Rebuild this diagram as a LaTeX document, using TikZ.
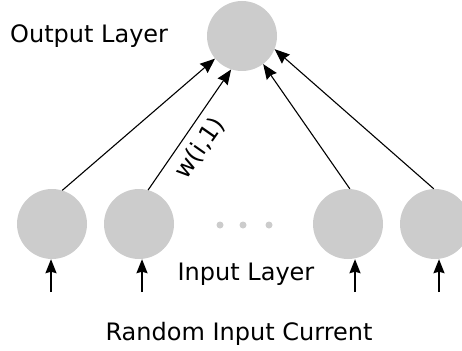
\documentclass[tikz,border=0pt]{standalone}
\usepackage{fontspec}
\setmainfont{DejaVu Sans}
\usetikzlibrary{arrows.meta}
\definecolor{nodegray}{HTML}{CCCCCC}
\begin{document}
\begin{tikzpicture}[x=1pt,y=-1pt,
  neuron/.style={circle,fill=nodegray,draw=none,minimum size=70pt,inner sep=0pt},
  dotc/.style={circle,fill=nodegray,draw=none,minimum size=7pt,inner sep=0pt},
  conn/.style={line width=1.1pt,-{Stealth[length=15pt,width=12pt,inset=1.5pt]}},
  inarr/.style={line width=1.7pt,-{Stealth[length=14pt,width=11pt,inset=1.5pt]}},
  lbl/.style={font=\fontsize{24pt}{28pt}\selectfont,inner sep=0pt}]
\useasboundingbox (0,0) rectangle (462,350);
\node[neuron] (o) at (242,36) {};
\node[neuron] (i1) at (52,224) {};
\node[neuron] (i2) at (139,224) {};
\node[neuron] (i3) at (348,224) {};
\node[neuron] (i4) at (435,224) {};
\node[dotc] (d1) at (220,225) {};
\node[dotc] (d2) at (243,225) {};
\node[dotc] (d3) at (269,225) {};
\draw[conn] (i1.73) -- (o.220);
\draw[conn] (i2.75) -- (o.252);
\draw[conn] (i3.87) -- (o.307);
\draw[conn] (i4.92) -- (o.338);
\coordinate (b1) at (51,292);
\coordinate (b2) at (142,292);
\coordinate (b3) at (355,292);
\coordinate (b4) at (439,292);
\draw[inarr] (b1) -- (b1 |- i1.south);
\draw[inarr] (b2) -- (b2 |- i2.south);
\draw[inarr] (b3) -- (b3 |- i3.south);
\draw[inarr] (b4) -- (b4 |- i4.south);
\node[lbl,anchor=base west] (tout) at (10,43) {Output Layer};
\node[lbl,anchor=base] (tin) at (246,280) {Input Layer};
\node[lbl,anchor=base] (trand) at (239,340) {Random Input Current};
\node[lbl,rotate=55] (w) at (200,148) {w(i,1)};
\end{tikzpicture}
\end{document}
